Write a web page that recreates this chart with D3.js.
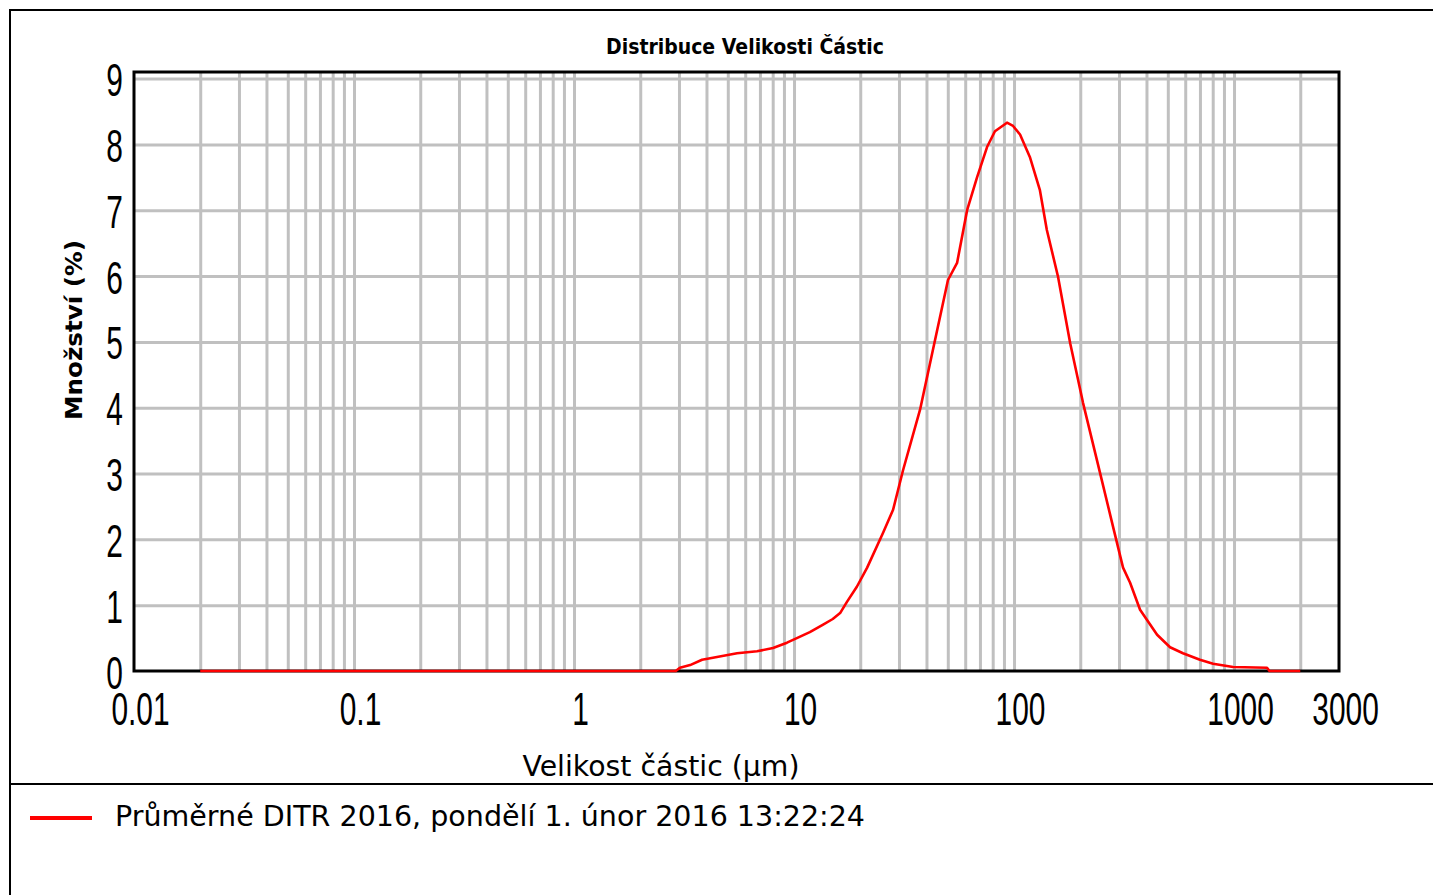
<!DOCTYPE html>
<html>
<head>
<meta charset="utf-8">
<script src="https://cdn.jsdelivr.net/npm/d3@7"></script>
<style>
  html, body { margin: 0; padding: 0; background: #ffffff; }
  svg { display: block; }
</style>
</head>
<body>
<svg id="chart" width="1433" height="895"></svg>
<script>
// ---- data ----
const chartTitle = "Distribuce Velikosti Částic";
const xAxisTitle = "Velikost částic (µm)";
const yAxisTitle = "Množství (%)";
const legendLabel = "Průměrné DITR 2016, pondělí 1. únor 2016 13:22:24";

// particle size (µm)
const sizes = [0.02, 2.9, 3.03, 3.37, 3.82, 4.28, 5.51, 6.79, 8.03, 9.29, 10.3, 11.8, 13.5, 15.0, 16.2,
  17.4, 19.3, 21.5, 25.4, 28.2, 31.3, 37.4, 42.8, 50.1, 55.1, 61.2, 67.9, 75.4, 81.9, 92.9, 99,
  106.5, 118, 131, 141, 158.5, 180, 206, 246, 282, 313, 337, 374, 447, 512, 586, 700, 803, 990,
  1412, 1450, 2000];
// volume amount (%)
const volumes = [0, 0, 0.05, 0.09, 0.17, 0.2, 0.27, 0.3, 0.35, 0.43, 0.5, 0.59, 0.7, 0.79, 0.88,
  1.05, 1.28, 1.57, 2.1, 2.45, 3.05, 3.97, 4.88, 5.94, 6.2, 7.0, 7.5, 7.96, 8.2, 8.33, 8.28,
  8.15, 7.81, 7.31, 6.7, 5.99, 4.98, 4.07, 3.01, 2.19, 1.57, 1.34, 0.93, 0.55, 0.36, 0.27, 0.17, 0.11, 0.06,
  0.05, 0, 0];

const xDomain = [0.01, 3000];
const yDomain = [0, 9.1];
const xTickValues = [0.01, 0.1, 1, 10, 100, 1000, 3000];
const xTickLabels = ["0.01", "0.1", "1", "10", "100", "1000", "3000"];
const yTickValues = [0, 1, 2, 3, 4, 5, 6, 7, 8, 9];
const yTickLabels = ["0", "1", "2", "3", "4", "5", "6", "7", "8", "9"];
const gridMultipliers = [1, 2, 3, 4, 5, 6, 7, 8, 9];
const gridDecades = [0.01, 0.1, 1, 10, 100, 1000];

// ---- layout ----
const svg = d3.select("#chart");
const W = 1433, H = 895;
const plot = { left: 134, right: 1339, top: 72, bottom: 671 };
const x = d3.scaleLog().domain(xDomain).range([plot.left, plot.right]);
const y = d3.scaleLinear().domain(yDomain).range([plot.bottom, plot.top]);
const condensed = 0.65;
const textFont = "'DejaVu Sans', Verdana, sans-serif";
const numFont = "'Liberation Sans', Arial, sans-serif";

svg.append("rect").attr("width", W).attr("height", H).attr("fill", "#ffffff");

// outer frame
svg.append("path")
  .attr("d", `M10,${H} L10,10 L${W},10`)
  .attr("fill", "none").attr("stroke", "#000").attr("stroke-width", 2);
svg.append("line")
  .attr("x1", 10).attr("x2", W).attr("y1", 784).attr("y2", 784)
  .attr("stroke", "#000").attr("stroke-width", 2);

// title
svg.append("text")
  .attr("x", 745).attr("y", 54)
  .attr("text-anchor", "middle")
  .attr("font-family", textFont).attr("font-weight", "bold").attr("font-size", 21)
  .attr("textLength", 278).attr("lengthAdjust", "spacingAndGlyphs")
  .text(chartTitle);

// plot background
svg.append("rect")
  .attr("x", plot.left).attr("y", plot.top)
  .attr("width", plot.right - plot.left).attr("height", plot.bottom - plot.top)
  .attr("fill", "#ffffff");

// grid
const gridX = [];
gridDecades.forEach(d => gridMultipliers.forEach(m => {
  const v = +(d * m).toPrecision(3);
  if (v > xDomain[0] && v < xDomain[1]) gridX.push(v);
}));
const gridY = yTickValues.filter(v => v > 0);

svg.append("g")
  .attr("transform", `translate(0,${plot.bottom})`)
  .call(d3.axisBottom(x).tickValues(gridX).tickSize(-(plot.bottom - plot.top)).tickFormat(""))
  .call(g => g.select(".domain").remove())
  .call(g => g.selectAll("line").attr("stroke", "#c0c0c0").attr("stroke-width", 3));

svg.append("g")
  .attr("transform", `translate(${plot.left},0)`)
  .call(d3.axisLeft(y).tickValues(gridY).tickSize(-(plot.right - plot.left)).tickFormat(""))
  .call(g => g.select(".domain").remove())
  .call(g => g.selectAll("line").attr("stroke", "#c0c0c0").attr("stroke-width", 3));

// plot frame
svg.append("rect")
  .attr("x", plot.left).attr("y", plot.top)
  .attr("width", plot.right - plot.left).attr("height", plot.bottom - plot.top)
  .attr("fill", "none").attr("stroke", "#000").attr("stroke-width", 3);

// tick labels
svg.append("g")
  .attr("transform", `translate(0,${plot.bottom})`)
  .call(d3.axisBottom(x).tickValues(xTickValues).tickSize(0)
    .tickFormat((d, i) => xTickLabels[i]))
  .call(g => g.select(".domain").remove())
  .call(g => g.selectAll("text")
    .attr("font-family", numFont).attr("font-size", 46).attr("fill", "#000")
    .attr("text-anchor", "middle")
    .attr("dy", null).attr("y", 54).attr("x", 6 / condensed)
    .attr("transform", `scale(${condensed},1)`));

svg.append("g")
  .attr("transform", `translate(${plot.left},0)`)
  .call(d3.axisLeft(y).tickValues(yTickValues).tickSize(0)
    .tickFormat((d, i) => yTickLabels[i]))
  .call(g => g.select(".domain").remove())
  .call(g => g.selectAll("text")
    .attr("font-family", numFont).attr("font-size", 46).attr("fill", "#000")
    .attr("text-anchor", "end")
    .attr("dy", null).attr("y", 17).attr("x", -11 / condensed)
    .attr("transform", `scale(${condensed},1)`));

// axis titles
svg.append("text")
  .attr("x", 661).attr("y", 776)
  .attr("text-anchor", "middle")
  .attr("font-family", textFont).attr("font-size", 28)
  .attr("textLength", 277).attr("lengthAdjust", "spacingAndGlyphs")
  .text(xAxisTitle);

svg.append("text")
  .attr("transform", "translate(82,330) rotate(-90)")
  .attr("text-anchor", "middle")
  .attr("font-family", textFont).attr("font-weight", "bold").attr("font-size", 23)
  .attr("textLength", 180).attr("lengthAdjust", "spacingAndGlyphs")
  .text(yAxisTitle);

// curve
const points = sizes.map((s, i) => [s, volumes[i]]);
svg.append("path")
  .datum(points)
  .attr("fill", "none")
  .attr("stroke", "#ff0000")
  .attr("stroke-width", 2.6)
  .attr("stroke-linejoin", "round")
  .attr("d", d3.line().x(d => x(d[0])).y(d => y(d[1])));

// legend
svg.append("line")
  .attr("x1", 30).attr("x2", 92).attr("y1", 818).attr("y2", 818)
  .attr("stroke", "#ff0000").attr("stroke-width", 4);
svg.append("text")
  .attr("x", 115).attr("y", 826)
  .attr("font-family", textFont).attr("font-size", 29)
  .attr("textLength", 750).attr("lengthAdjust", "spacingAndGlyphs")
  .text(legendLabel);
</script>
</body>
</html>
